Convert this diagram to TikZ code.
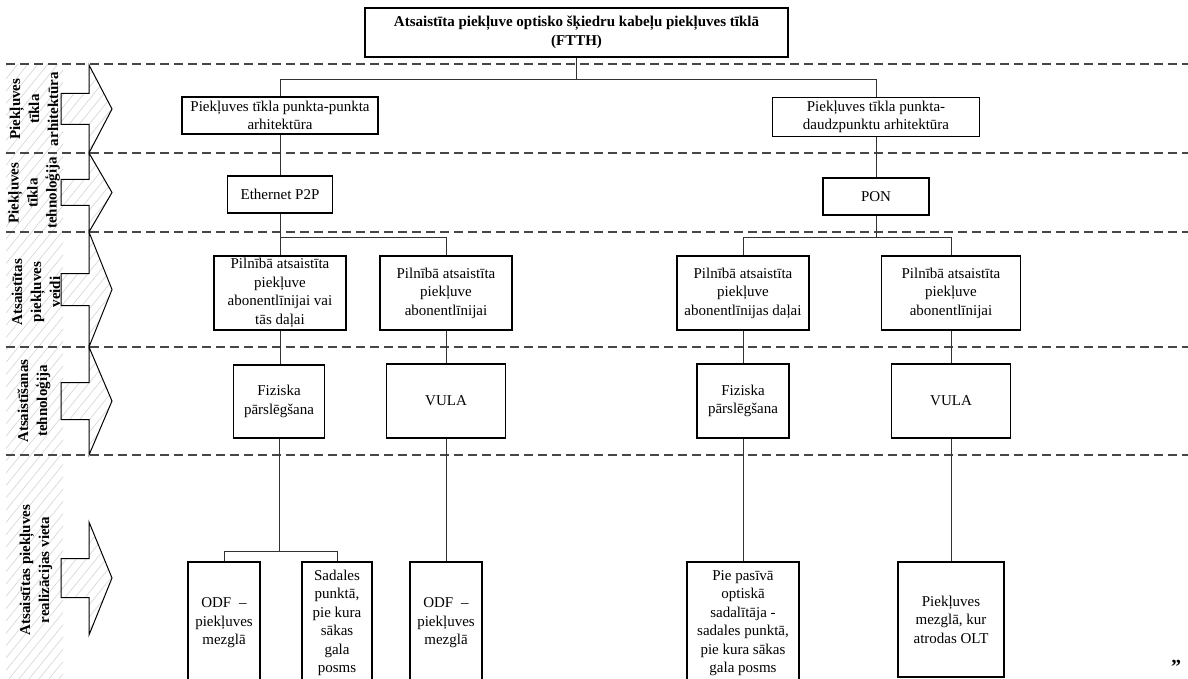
\documentclass[tikz,border=0pt]{standalone}
\usepackage{fontspec}
\setmainfont{Liberation Serif}
\begin{document}
\begin{tikzpicture}[x=1pt,y=-1pt,
  box/.style={draw=black, line width=1.7pt, align=center, inner sep=1pt, font=\fontsize{15}{18.5}\selectfont},
  conn/.style={draw=black!80, line width=1pt},
  band/.style={draw=black!72, line width=1.2pt, dash pattern=on 9pt off 5pt},
  hatch/.style={draw=black!17, line width=0.6pt},
  arrowshape/.style={draw=black, line width=1pt},
  sidelabel/.style={rotate=90, align=center, font=\bfseries\fontsize{15}{19}\selectfont}
]
\useasboundingbox (0,0) rectangle (1188,679);
\clip (0,0) rectangle (1188,679);

% hatched strip
\begin{scope}
\clip (6,65) rectangle (63,679);
\foreach \i in {-520,-510,...,120} \draw[hatch] (\i,690) -- ++(560,-690);
\end{scope}

% side arrows
\foreach \t/\b/\m/\h in {65/153/109/15.5, 153/232/192.5/13, 232/347/289.5/16, 347/455/401/18.5, 522/635/578/19.5}{
  \begin{scope}
  \clip (89,\t) -- (112,\m) -- (89,\b) -- (89,{\m+\h}) -- (61,{\m+\h}) -- (61,{\m-\h}) -- (89,{\m-\h}) -- cycle;
  \foreach \i in {-520,-510,...,120} \draw[hatch] (\i,690) -- ++(560,-690);
  \end{scope}
  \draw[arrowshape] (89,\t) -- (112,\m) -- (89,\b) -- (89,{\m+\h}) -- (61,{\m+\h}) -- (61,{\m-\h}) -- (89,{\m-\h}) -- cycle;
}

% dashed band lines
\foreach \y in {64,153,232,347,455} \draw[band] (6,\y) -- (1188,\y);

% side labels
\node[sidelabel] (l1) at (34,109) {Piekļuves\\tīkla\\arhitektūra};
\node[sidelabel] (l2) at (34,193) {Piekļuves\\tīkla\\tehnoloģija};
\node[sidelabel] (l3) at (36,292) {Atsaistītas\\piekļuves\\veidi};
\node[sidelabel] (l4) at (34,401) {Atsaistīšanas\\tehnoloģija};
\node[sidelabel] (l5) at (36,570) {Atsaistītas piekļuves\\realizācijas vieta};

% nodes
\node[box, font=\bfseries\fontsize{15}{18.5}\selectfont, minimum width=423pt, minimum height=49pt] (top) at (576.5,32.5)
  {Atsaistīta piekļuve optisko šķiedru kabeļu piekļuves tīklā\\(FTTH)};
\node[box, minimum width=196pt, minimum height=37pt] (A) at (280,115.5) {Piekļuves tīkla punkta-punkta\\arhitektūra};
\node[box, minimum width=207pt, minimum height=39pt] (B) at (876,117) {Piekļuves tīkla punkta-\\daudzpunktu arhitektūra};
\node[box, minimum width=105pt, minimum height=37pt] (eth) at (280,194.5) {Ethernet P2P};
\node[box, minimum width=106pt, minimum height=37pt] (pon) at (876,196.5) {PON};

\node[box, minimum width=132pt, minimum height=74pt] (c1) at (280,293) {Pilnībā atsaistīta\\piekļuve\\abonentlīnijai vai\\tās daļai};
\node[box, minimum width=132pt, minimum height=74pt] (c2) at (446,293) {Pilnībā atsaistīta\\piekļuve\\abonentlīnijai};
\node[box, minimum width=132pt, minimum height=74pt] (c3) at (743,293) {Pilnībā atsaistīta\\piekļuve\\abonentlīnijas daļai};
\node[box, minimum width=139pt, minimum height=74pt] (c4) at (951,293) {Pilnībā atsaistīta\\piekļuve\\abonentlīnijai};

\node[box, minimum width=91pt, minimum height=73pt] (f1) at (279,401.5) {Fiziska\\pārslēgšana};
\node[box, minimum width=119pt, minimum height=74pt] (v1) at (446,401) {VULA};
\node[box, minimum width=92pt, minimum height=74pt] (f2) at (743,401) {Fiziska\\pārslēgšana};
\node[box, minimum width=119pt, minimum height=74pt] (v2) at (951,401) {VULA};

\node[box, minimum width=72pt, minimum height=122pt] (d1) at (224,623) {ODF \;–\\piekļuves\\mezglā};
\node[box, minimum width=70pt, minimum height=122pt] (d2) at (337,623) {Sadales\\punktā,\\pie kura\\sākas\\gala\\posms};
\node[box, minimum width=72pt, minimum height=122pt] (d3) at (446,623) {ODF \;–\\piekļuves\\mezglā};
\node[box, minimum width=112pt, minimum height=122pt] (d4) at (743,623) {Pie pasīvā\\optiskā\\sadalītāja -\\sadales punktā,\\pie kura sākas\\gala posms};
\node[box, minimum width=106pt, minimum height=115pt] (d5) at (951,619.5) {Piekļuves\\mezglā, kur\\atrodas OLT};

\node[font=\bfseries\fontsize{20}{20}\selectfont] (q) at (1176,667) {”};

% connectors
\coordinate (b0) at (576.5,80);
\draw[conn] (top.south) -- (b0);
\draw[conn] (b0) -| (A.north);
\draw[conn] (b0) -| (B.north);
\draw[conn] (A.south) -- (eth.north);
\draw[conn] (B.south) -- (pon.north);

\coordinate (b1) at (280,237);
\draw[conn] (eth.south) -- (b1);
\draw[conn] (b1) -- (c1.north);
\draw[conn] (b1) -| (c2.north);

\coordinate (b2) at (876,237);
\draw[conn] (pon.south) -- (b2);
\draw[conn] (b2) -| (c3.north);
\draw[conn] (b2) -| (c4.north);

\draw[conn] (c1.south) -- (c1.south |- f1.north);
\draw[conn] (c2.south) -- (v1.north);
\draw[conn] (c3.south) -- (f2.north);
\draw[conn] (c4.south) -- (v2.north);

\coordinate (b3) at (279,551);
\draw[conn] (f1.south) -- (b3);
\draw[conn] (b3) -| (d1.north);
\draw[conn] (b3) -| (d2.north);
\draw[conn] (v1.south) -- (d3.north);
\draw[conn] (f2.south) -- (d4.north);
\draw[conn] (v2.south) -- (d5.north);
\end{tikzpicture}
\end{document}
